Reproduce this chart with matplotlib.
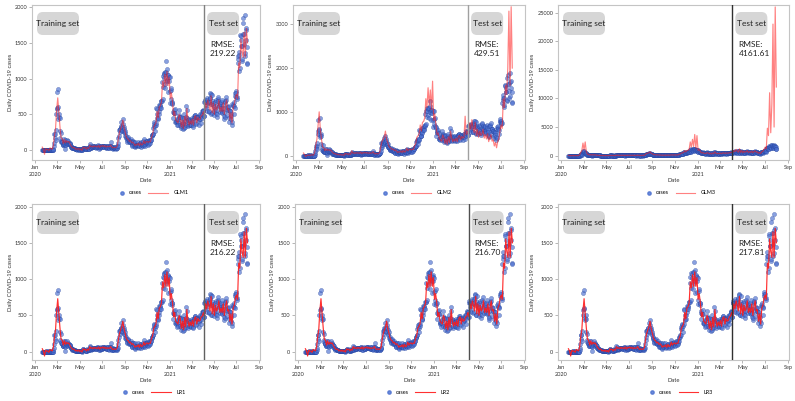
import matplotlib
matplotlib.use("Agg")
import matplotlib.pyplot as plt
import matplotlib.dates as mdates
from matplotlib.patches import FancyBboxPatch
from matplotlib.lines import Line2D
from matplotlib.legend_handler import HandlerLine2D
import numpy as np
import pandas as pd

plt.rcParams["font.family"] = ["Lato", "DejaVu Sans"]

start_date = "2020-01-20"
test_start = "2021-04-04"

# daily cases, one row per month
cases = (
    [1, 0, 0, 0, 1, 0, 1, 1, 0, 0, 2, 5]
    + [1, 3, 0, 1, 2, 4, 1, 0, 3, 0, 1, 0, 0, 0, 0, 1, 1, 1, 20, 53, 100, 229, 169, 231, 144, 284, 505, 571, 813]
    + [586, 599, 851, 435, 467, 505, 448, 272, 165, 131, 242, 114, 110, 107, 76, 74, 84, 93, 152, 87, 147, 8, 64, 76, 100, 104, 91, 146, 105, 78, 125]
    + [101, 89, 86, 94, 81, 47, 47, 53, 39, 27, 30, 32, 25, 27, 27, 22, 22, 18, 8, 13, 9, 11, 8, 6, 10, 10, 10, 14, 9, 4]
    + [9, 6, 13, 8, 3, 2, 4, 12, 18, 34, 35, 27, 26, 29, 27, 19, 13, 15, 13, 32, 12, 20, 23, 25, 16, 19, 40, 79, 58, 39, 27]
    + [35, 38, 49, 39, 39, 51, 57, 38, 50, 45, 56, 48, 49, 37, 34, 43, 59, 49, 67, 48, 17, 46, 51, 28, 39, 51, 62, 42, 42, 43]
    + [51, 54, 63, 63, 61, 48, 44, 62, 50, 45, 35, 44, 62, 33, 39, 61, 60, 39, 34, 26, 45, 63, 59, 41, 113, 58, 25, 28, 48, 18, 36]
    + [31, 30, 23, 34, 33, 43, 20, 36, 28, 34, 54, 56, 103, 166, 279, 197, 246, 297, 288, 324, 332, 397, 266, 280, 320, 441, 371, 323, 299, 248, 235]
    + [267, 195, 198, 168, 167, 119, 136, 156, 155, 176, 136, 121, 109, 106, 113, 153, 126, 110, 82, 70, 61, 110, 125, 114, 61, 95, 50, 38, 113, 77]
    + [63, 75, 64, 73, 75, 114, 69, 54, 72, 58, 97, 102, 84, 110, 47, 73, 91, 76, 58, 91, 121, 155, 77, 61, 119, 88, 103, 125, 114, 127, 124]
    + [97, 75, 118, 125, 145, 89, 143, 126, 100, 146, 143, 191, 205, 208, 223, 230, 313, 343, 363, 386, 330, 271, 349, 382, 583, 569, 504, 450, 438, 451]
    + [511, 540, 629, 583, 631, 615, 594, 686, 682, 689, 950, 1030, 718, 880, 1078, 1014, 1064, 1097, 926, 869, 1092, 1240, 985, 1132, 970, 808, 1045, 1050, 967, 1029, 824]
    + [657, 1020, 715, 838, 869, 674, 641, 665, 451, 537, 562, 524, 513, 580, 520, 389, 386, 404, 401, 346, 431, 392, 437, 349, 559, 497, 469, 458, 355, 305, 336]
    + [467, 451, 370, 393, 372, 289, 303, 444, 504, 403, 362, 326, 344, 457, 621, 561, 448, 416, 416, 332, 357, 440, 396, 406, 415, 356, 355, 344]
    + [444, 424, 398, 416, 346, 323, 446, 470, 465, 488, 490, 459, 382, 363, 469, 445, 463, 452, 456, 415, 346, 428, 430, 494, 505, 482, 382, 447, 506, 551, 558]
    + [543, 543, 473, 478, 668, 700, 671, 677, 614, 587, 542, 731, 698, 673, 658, 672, 532, 549, 731, 735, 797, 785, 644, 500, 512, 769, 680, 661, 627, 606]
    + [488, 541, 676, 574, 525, 701, 564, 463, 511, 635, 715, 747, 681, 610, 619, 528, 654, 646, 561, 666, 585, 530, 516, 707, 629, 587, 533, 480, 430, 459, 677]
    + [681, 695, 744, 556, 485, 602, 611, 602, 565, 556, 452, 399, 545, 540, 507, 482, 429, 357, 395, 645, 610, 634, 668, 614, 501, 595, 794, 762, 826, 794]
    + [743, 711, 746, 1212, 1275, 1316, 1378, 1324, 1100, 1150, 1615, 1600, 1536, 1452, 1454, 1252, 1278, 1784, 1842, 1630, 1629, 1487, 1318, 1365, 1896, 1674, 1710, 1539, 1442, 1219, 1202]
)

# model fits, one value every 3 days from start_date
pred_linear = [
    40, 10, -60, 20, 5, 10, -10, 30, 20, 10,
    60, 200, 300, 560, 730, 520, 330, 170, 160, 90,
    150, 100, 130, 110, 120, 90, 60, 40, 30, 35,
    10, 20, 5, 25, 0, 15, -5, 40, 25, 35,
    10, 35, 20, 70, 45, 55, 40, 60, 45, 55,
    40, 65, 35, 60, 50, 65, 45, 60, 40, 55,
    45, 50, 70, 40, 30, 40, 30, 35, 60, 170,
    250, 300, 340, 420, 320, 260, 190, 160, 150, 120,
    130, 100, 110, 90, 60, 80, 70, 95, 60, 100,
    70, 80, 130, 90, 115, 120, 105, 120, 115, 180,
    220, 320, 350, 380, 540, 450, 600, 620, 670, 960,
    880, 1060, 900, 1100, 900, 1020, 720, 800, 680, 480,
    540, 420, 400, 380, 500, 460, 320, 420, 300, 470,
    340, 580, 430, 350, 410, 360, 430, 350, 460, 480,
    380, 460, 420, 430, 480, 490, 540, 480, 660, 590,
    700, 640, 560, 760, 520, 660, 500, 640, 560, 600,
    700, 540, 600, 540, 660, 500, 620, 700, 560, 580,
    420, 520, 380, 600, 640, 740, 780, 720, 1220, 1150,
    1550, 1380, 1300, 1650, 1300, 1700, 1500,
]

pred_glm2 = [
    60, 20, -20, 10, 5, 15, 0, 20, 15, 10,
    80, 250, 380, 700, 1000, 600, 380, 200, 180, 110,
    160, 120, 140, 120, 130, 100, 70, 50, 40, 40,
    20, 30, 15, 30, 10, 20, 5, 50, 35, 45,
    20, 45, 30, 110, 55, 65, 50, 70, 55, 65,
    50, 80, 45, 70, 60, 75, 55, 70, 50, 65,
    55, 60, 90, 50, 40, 50, 40, 45, 80, 220,
    330, 380, 420, 560, 380, 300, 220, 180, 170, 140,
    150, 110, 130, 100, 70, 90, 80, 110, 70, 120,
    80, 100, 170, 110, 140, 150, 130, 150, 140, 230,
    280, 420, 450, 500, 700, 560, 760, 780, 860, 1300,
    1100, 1550, 1150, 1500, 1050, 1700, 800, 950, 700, 480,
    520, 380, 360, 330, 470, 420, 280, 380, 260, 430,
    300, 560, 400, 320, 380, 330, 400, 320, 440, 460,
    360, 440, 400, 420, 900, 480, 560, 460, 750, 600,
    820, 640, 520, 760, 460, 600, 420, 560, 460, 500,
    600, 400, 480, 380, 500, 320, 420, 480, 330, 360,
    220, 300, 180, 320, 380, 560, 700, 620, 1300, 1100,
    1600, 1400, 2000, 3300, 1600, 3400, 2000,
]

pred_glm3 = [
    50, 20, 0, 10, 5, 10, 0, 15, 10, 10,
    150, 600, 900, 2200, 1000, 2400, 700, 250, 200, 120,
    180, 120, 150, 130, 140, 100, 60, 40, 30, 35,
    15, 25, 10, 30, 5, 20, 5, 45, 30, 40,
    15, 40, 25, 90, 50, 60, 45, 65, 50, 60,
    45, 70, 40, 65, 55, 70, 50, 65, 45, 60,
    50, 55, 80, 45, 35, 45, 35, 40, 70, 250,
    400, 450, 500, 700, 420, 320, 220, 180, 160, 130,
    140, 110, 120, 100, 65, 85, 75, 105, 65, 110,
    75, 90, 150, 100, 125, 135, 115, 130, 125, 220,
    280, 450, 480, 550, 900, 650, 900, 950, 1100, 2400,
    1500, 2850, 1600, 3700, 1300, 3500, 900, 1100, 750, 480,
    560, 420, 400, 370, 520, 470, 310, 430, 290, 480,
    330, 650, 440, 340, 410, 350, 440, 340, 470, 500,
    380, 480, 430, 450, 520, 520, 600, 520, 900, 700,
    1100, 800, 600, 1200, 550, 900, 500, 800, 600, 700,
    900, 550, 700, 560, 800, 500, 700, 850, 600, 650,
    420, 550, 380, 700, 800, 1100, 1500, 1200, 4800, 3500,
    11000, 4000, 9000, 23000, 5000, 26000, 12000,
]

models = ["GLM1", "GLM2", "GLM3", "LR1", "LR2", "LR3"]
rmse = ["219.22", "429.51", "4161.61", "216.22", "216.70", "217.81"]
preds = [pred_linear, pred_glm2, pred_glm3, pred_linear, pred_linear, pred_linear]

# axes boxes in pixels: left, right, top, bottom
boxes = [(32, 260, 5, 160), (293, 525, 5, 160), (558, 789, 5, 160),
         (32, 260, 204, 360), (295, 525, 204, 360), (558, 789, 204, 360)]
ylims = [(-140, 2030), (-100, 3440), (-760, 26340),
         (-115, 2035), (-115, 2035), (-115, 2035)]
yticks = [range(0, 2001, 500), range(0, 3001, 1000), range(0, 25001, 5000),
          range(0, 2001, 500), range(0, 2001, 500), range(0, 2001, 500)]
vline_colors = ["#808080", "#a0a0a0", "#303030", "#606060", "#505050", "#303030"]

W, H = 795, 401
dates = pd.date_range(start_date, periods=len(cases), freq="D")
x0, x1 = pd.Timestamp("2019-12-23"), pd.Timestamp("2021-09-03")
tick_dates = pd.date_range("2020-01-01", "2021-09-01", freq="2MS")
tick_labels = [d.strftime("%b\n%Y") if d.month == 1 else d.strftime("%b") for d in tick_dates]


class DotRight(HandlerLine2D):
    # single marker drawn near the right end of the handle box
    def get_xdata(self, legend, xdescent, ydescent, width, height, fontsize):
        xd = np.array([width - xdescent - 0.5 * fontsize, width - xdescent])
        return xd, xd


fig = plt.figure(figsize=(W / 100, H / 100), dpi=100)

for i, name in enumerate(models):
    l, r, t, b = boxes[i]
    ax = fig.add_axes([l / W, 1 - b / H, (r - l) / W, (b - t) / H])
    aw, ah = r - l, b - t
    is_glm = name.startswith("GLM")

    ax.scatter(dates, cases, s=9, color="#4a6fd0", edgecolors="#1f3c98",
               linewidths=0.3, alpha=0.65, zorder=2)
    pdates = pd.date_range(start_date, periods=len(preds[i]), freq="3D")
    ax.plot(pdates, preds[i], color="#ff1a1a", lw=0.85,
            alpha=0.55 if is_glm else 0.9, zorder=3)
    ax.axvline(pd.Timestamp(test_start), color=vline_colors[i], lw=1, zorder=4)

    ax.set_xlim(x0, x1)
    ax.set_ylim(*ylims[i])
    ax.set_yticks(list(yticks[i]))
    ax.set_xticks(tick_dates, labels=tick_labels)
    for lbl in ax.get_xticklabels():
        lbl.set_linespacing(1.5)
    ax.tick_params(labelsize=4, colors="#999999", labelcolor="#333333",
                   length=2, width=0.5, pad=1.5)
    for s in ax.spines.values():
        s.set_color("#c4c4c4")
        s.set_linewidth(0.8)

    ax.set_xlabel("Date", fontsize=4.2, color="#333333")
    ax.xaxis.set_label_coords(0.5, -0.115)
    ax.set_ylabel("Daily COVID-19 cases", fontsize=4.2, color="#333333")
    ax.yaxis.set_label_coords(-0.085 if i % 3 != 2 else -0.10, 0.5)

    # grey label boxes
    tf = (mdates.date2num(pd.Timestamp(test_start)) - mdates.date2num(x0)) / \
         (mdates.date2num(x1) - mdates.date2num(x0))
    by0, bh = 1 - 30 / ah, 23 / ah
    for bx, bw, txt in [(5 / aw, 42 / aw, "Training set"),
                        (tf + 3 / aw, 32 / aw, "Test set")]:
        ax.add_patch(FancyBboxPatch((bx, by0), bw, bh, transform=ax.transAxes,
                                    boxstyle="round,pad=0,rounding_size=%.3f" % (6 / aw),
                                    mutation_aspect=aw / ah, fc="#d6d6d6", ec="none",
                                    zorder=5))
        ax.text(bx + bw / 2, by0 + bh / 2, txt, transform=ax.transAxes, fontsize=6,
                ha="center", va="center", color="#222222", zorder=6)
    ax.text(tf + 6 / aw, 1 - 44 / ah, "RMSE:\n" + rmse[i], transform=ax.transAxes,
            fontsize=6, ha="left", va="center", linespacing=1.3, color="#222222",
            zorder=6)

    h_cases = Line2D([], [], ls="none", marker="o", ms=2.4, color="#4a6fd0", alpha=0.8)
    h_model = Line2D([], [], color="#ff1a1a", lw=0.8, alpha=0.55 if is_glm else 0.9)
    ax.legend([h_cases, h_model], ["cases", name], loc="center",
              bbox_to_anchor=(0.5, 1 - 188 / ah), ncol=2, frameon=False,
              fontsize=4, handlelength=3.5, handletextpad=1.0, columnspacing=1.2,
              handler_map={h_cases: DotRight(numpoints=1)})

fig.savefig("out.png", dpi=100)
